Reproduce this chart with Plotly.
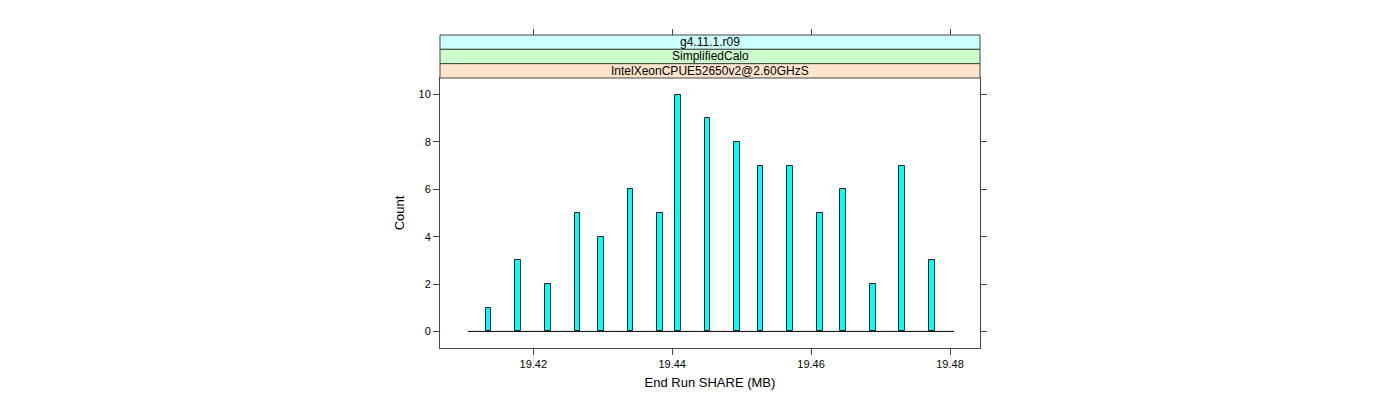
import plotly.graph_objects as go

# ---- data ----
bin_centers = [19.41355, 19.41784, 19.42207, 19.42636, 19.42972, 19.43400,
               19.43827, 19.44081, 19.44508, 19.44930, 19.45271, 19.45701,
               19.46125, 19.46464, 19.46894, 19.47313, 19.47745]
counts = [1, 3, 2, 5, 4, 6, 5, 10, 9, 8, 7, 7, 5, 6, 2, 7, 3]
bin_width = 0.00085
breaks_range = [19.4106, 19.4806]
x_ticks = [19.42, 19.44, 19.46, 19.48]
y_ticks = [0, 2, 4, 6, 8, 10]
strip_labels = ["g4.11.1.r09", "SimplifiedCalo", "IntelXeonCPUE52650v2@2.60GHzS"]
strip_colors = ["#ccffff", "#ccffcc", "#ffe5cc"]
x_title = "End Run SHARE (MB)"
y_title = "Count"

FONT = "Liberation Sans, Arial, Helvetica, sans-serif"
W, H = 1400, 400
# page body has an 8px margin, so offsets are compensated
mt, mb, ml, mr = 27, 60, 432, 428
plot_h = H - mt - mb
panel_top_px = 70
ydom_top = (H - mb - panel_top_px) / plot_h

fig = go.Figure()

fig.add_trace(go.Scatter(
    x=breaks_range, y=[0, 0], mode="lines",
    line=dict(color="black", width=1), hoverinfo="skip", showlegend=False))

fig.add_trace(go.Bar(
    x=bin_centers, y=counts, width=bin_width,
    marker=dict(color="#00ffff", line=dict(color="#222222", width=1)),
    showlegend=False))

# top axis (ticks above strips)
fig.add_trace(go.Scatter(x=[x_ticks[0]], y=[0], xaxis="x2", mode="markers",
                         marker=dict(opacity=0), hoverinfo="skip", showlegend=False))

xrange = [19.40657, 19.48432]

fig.update_layout(
    width=W, height=H,
    margin=dict(l=ml, r=mr, t=mt, b=mb),
    paper_bgcolor="white", plot_bgcolor="white",
    font=dict(family=FONT, size=11, color="black"),
    bargap=0,
    xaxis=dict(range=xrange, tickvals=x_ticks, ticktext=[f"{v:.2f}" for v in x_ticks],
               ticks="outside", ticklen=6, tickcolor="#444444", showgrid=False,
               zeroline=False, showline=True, linecolor="#444444", linewidth=1,
               mirror=True, tickfont=dict(size=11),
               title=dict(text=x_title, font=dict(size=13), standoff=8)),
    xaxis2=dict(range=xrange, tickvals=x_ticks, ticktext=["" for _ in x_ticks],
                overlaying="x", side="top", anchor="free", position=1,
                ticks="outside", ticklen=6, tickcolor="#444444", showgrid=False,
                zeroline=False, showline=False),
    yaxis=dict(range=[-0.7, 10.7], domain=[0, ydom_top], tickvals=y_ticks,
               ticks="outside", ticklen=6, tickcolor="#444444", showgrid=False,
               zeroline=False, showline=True, linecolor="#444444", linewidth=1,
               mirror="ticks", tickfont=dict(size=11),
               title=dict(text=y_title, font=dict(size=13), standoff=10)),
)

# strips
strip_h = (1 - ydom_top) / len(strip_labels)
for i, (lab, col) in enumerate(zip(strip_labels, strip_colors)):
    y1 = 1 - i * strip_h
    y0 = y1 - strip_h
    fig.add_shape(type="rect", xref="x domain", yref="paper",
                  x0=0, x1=1, y0=y0, y1=y1,
                  fillcolor=col, line=dict(color="#444444", width=1), layer="above")
    fig.add_annotation(xref="x domain", yref="paper", x=0.5, y=(y0 + y1) / 2,
                       text=lab, showarrow=False, font=dict(size=12),
                       xanchor="center", yanchor="middle")

fig.write_html("out.html")
